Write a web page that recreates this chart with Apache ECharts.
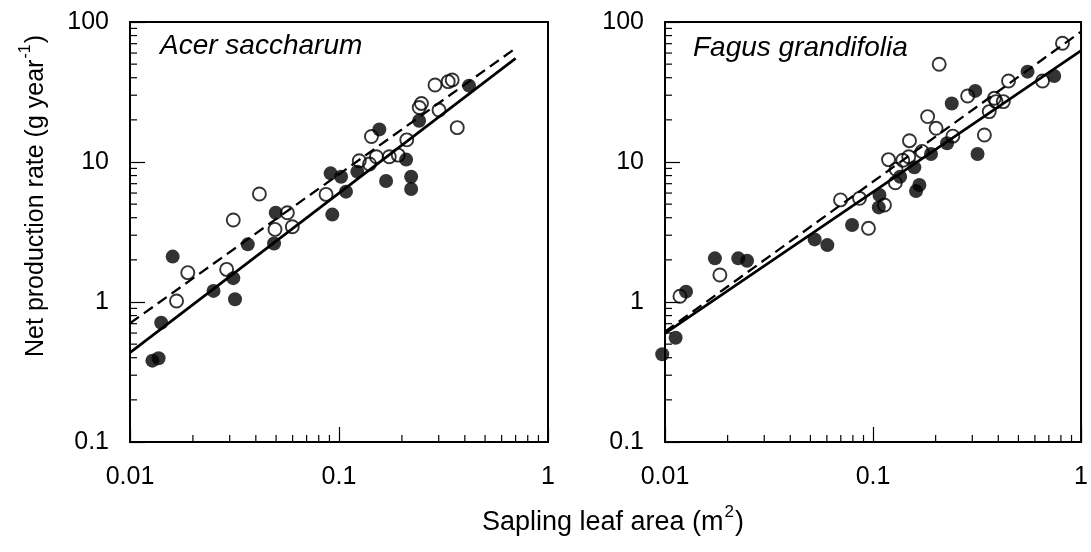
<!DOCTYPE html>
<html>
<head>
<meta charset="utf-8">
<script src="https://cdn.jsdelivr.net/npm/echarts@6/dist/echarts.min.js"></script>
<style>
html,body{margin:0;padding:0;background:#fff;}
#chart{width:1091px;height:552px;}
</style>
</head>
<body>
<div id="chart"></div>
<script>
// ---- Data ----
const panelNames = ['Acer saccharum', 'Fagus grandifolia'];

const acerFilled = [
  [0.0128,0.381],[0.0137,0.396],[0.0141,0.711],[0.0160,2.11],[0.0251,1.20],
  [0.0312,1.48],[0.0318,1.045],[0.0366,2.58],[0.0489,2.62],[0.0498,4.34],
  [0.0929,4.21],[0.0912,8.30],[0.1023,7.85],[0.108,6.14],[0.1224,8.53],
  [0.156,17.1],[0.168,7.31],[0.2095,10.4],[0.2214,7.85],[0.2214,6.41],
  [0.2417,19.7],[0.419,35.1]
];
const acerOpen = [
  [0.0167,1.017],[0.0189,1.62],[0.0290,1.71],[0.0312,3.85],[0.0416,5.91],
  [0.0494,3.30],[0.0566,4.34],[0.0598,3.45],[0.0867,5.87],[0.125,10.2],
  [0.143,15.2],[0.151,10.9],[0.140,9.68],[0.174,10.9],[0.192,11.2],
  [0.211,14.4],[0.242,24.5],[0.248,26.2],[0.288,35.5],[0.301,23.5],
  [0.333,37.5],[0.348,38.5],[0.368,17.6]
];
const acerSolidFit = [[0.01,0.435],[0.70,55]];
const acerDashedFit = [[0.01,0.705],[0.70,64.9]];

const fagusFilled = [
  [0.0097,0.423],[0.01125,0.556],[0.01262,1.186],[0.01738,2.05],[0.0225,2.05],
  [0.0248,1.97],[0.0524,2.80],[0.0603,2.55],[0.0793,3.55],[0.1074,5.81],
  [0.1066,4.74],[0.135,7.85],[0.158,9.16],[0.167,6.85],[0.161,6.21],
  [0.190,11.4],[0.227,13.6],[0.239,26.2],[0.310,32.2],[0.318,11.4],
  [0.553,44.2],[0.743,41.1]
];
const fagusOpen = [
  [0.0118,1.10],[0.01836,1.56],[0.0698,5.36],[0.0861,5.50],[0.0951,3.36],
  [0.1135,4.93],[0.1187,10.4],[0.128,7.11],[0.129,8.87],[0.139,10.3],
  [0.1485,10.9],[0.1497,14.2],[0.172,11.9],[0.183,21.1],[0.201,17.4],
  [0.208,49.9],[0.242,15.3],[0.285,29.6],[0.343,15.6],[0.362,22.9],
  [0.383,28.5],[0.390,27.0],[0.423,27.0],[0.448,37.9],[0.653,37.9],
  [0.814,70.5]
];
const fagusSolidFit = [[0.01,0.597],[1.0,62.4]];
const fagusDashedFit = [[0.01,0.614],[1.0,85.3]];

// axis ranges and ticks
const xRange = [0.01, 1];
const yRange = [0.1, 100];
const xMinorTicks = [0.02,0.03,0.04,0.05,0.06,0.07,0.08,0.09,0.2,0.3,0.4,0.5,0.6,0.7,0.8,0.9];
const yMinorTicks = [0.2,0.3,0.4,0.5,0.6,0.7,0.8,0.9,2,3,4,5,6,7,8,9,20,30,40,50,60,70,80,90];

const xTitleParts = ['Sapling leaf area (m', '2', ')'];
const yTitleParts = ['Net production rate (g year', '-1', ')'];

// ---- Chart ----
const FONT = '"Liberation Sans", Arial, Helvetica, sans-serif';
const chart = echarts.init(document.getElementById('chart'), null, {renderer: 'canvas'});

const grids = [
  {left: 130, top: 22, width: 418, height: 420},
  {left: 665, top: 22, width: 417, height: 420}
];

function fmt(v){
  if (v >= 1) return String(Math.round(v));
  return String(+v.toPrecision(1));
}

const xAxes = grids.map((g, i) => ({
  type: 'log', logBase: 10, gridIndex: i, min: xRange[0], max: xRange[1],
  axisLine: {show: true, onZero: false, lineStyle: {color: '#000', width: 2}},
  axisTick: {show: true, inside: true, length: 15, lineStyle: {color: '#000', width: 1.2}},
  minorTick: {show: false},
  splitLine: {show: false},
  axisLabel: {color: '#000', fontFamily: FONT, fontSize: 25, margin: 23, formatter: fmt,
    showMinLabel: true, showMaxLabel: true}
}));
const yAxes = grids.map((g, i) => ({
  type: 'log', logBase: 10, gridIndex: i, min: yRange[0], max: yRange[1],
  axisLine: {show: true, onZero: false, lineStyle: {color: '#000', width: 2}},
  axisTick: {show: true, inside: true, length: 15, lineStyle: {color: '#000', width: 1.2}},
  splitLine: {show: false},
  axisLabel: {color: '#000', fontFamily: FONT, fontSize: 25, margin: 21, formatter: fmt,
    showMinLabel: true, showMaxLabel: true}
}));

function minorTickSeries(idx){
  const data = xMinorTicks.map(v => [v, yRange[0], 0])
    .concat(yMinorTicks.map(v => [xRange[0], v, 1]));
  return {
    type: 'custom', xAxisIndex: idx, yAxisIndex: idx, silent: true, z: 5,
    clip: false,
    data: data,
    renderItem: function(params, api){
      const p = api.coord([api.value(0), api.value(1)]);
      const dir = api.value(2);
      const len = 7;
      const shape = dir === 0
        ? {x1: p[0], y1: p[1], x2: p[0], y2: p[1] - len}
        : {x1: p[0], y1: p[1], x2: p[0] + len, y2: p[1]};
      return {type: 'line', shape: shape, style: {stroke: '#000', lineWidth: 1.2}};
    }
  };
}

function lineSeries(idx, data, dashed){
  return {
    type: 'line', xAxisIndex: idx, yAxisIndex: idx, data: data,
    symbol: 'none', silent: true, z: 3,
    lineStyle: {color: '#000', width: dashed ? 2.3 : 2.7, type: dashed ? [11, 6] : 'solid'}
  };
}
function openSeries(idx, data){
  return {
    type: 'scatter', xAxisIndex: idx, yAxisIndex: idx, data: data, clip: false,
    symbol: 'circle', symbolSize: 13, z: 4,
    itemStyle: {color: 'rgba(255,255,255,0)', borderColor: '#000', borderWidth: 1.9}
  };
}
function filledSeries(idx, data){
  return {
    type: 'scatter', xAxisIndex: idx, yAxisIndex: idx, data: data, clip: false,
    symbol: 'circle', symbolSize: 14, z: 5,
    itemStyle: {color: '#000', borderColor: '#000', borderWidth: 0}
  };
}

const option = {
  backgroundColor: '#fff',
  animation: false,
  grid: grids.map(g => Object.assign({show: true, borderColor: '#000', borderWidth: 2,
    backgroundColor: 'transparent', containLabel: false}, g)),
  xAxis: xAxes,
  yAxis: yAxes,
  series: [
    lineSeries(0, acerSolidFit, false),
    lineSeries(0, acerDashedFit, true),
    openSeries(0, acerOpen),
    filledSeries(0, acerFilled),
    minorTickSeries(0),
    lineSeries(1, fagusSolidFit, false),
    lineSeries(1, fagusDashedFit, true),
    openSeries(1, fagusOpen),
    filledSeries(1, fagusFilled),
    minorTickSeries(1)
  ],
  graphic: [
    {type: 'text', left: 160, top: 32, z: 10,
      style: {text: panelNames[0], fontFamily: FONT, fontSize: 28, fontStyle: 'italic', fill: '#000'}},
    {type: 'text', left: 693, top: 34, z: 10,
      style: {text: panelNames[1], fontFamily: FONT, fontSize: 28, fontStyle: 'italic', fill: '#000'}},
    {type: 'text', z: 10, x: 613, y: 520,
      style: {
        text: '{a|' + xTitleParts[0] + '}{s|' + xTitleParts[1] + '}{a|' + xTitleParts[2] + '}',
        align: 'center', verticalAlign: 'middle',
        rich: {
          a: {fontFamily: FONT, fontSize: 27, fill: '#000', lineHeight: 33, verticalAlign: 'bottom'},
          s: {fontFamily: FONT, fontSize: 17, fill: '#000', lineHeight: 33, verticalAlign: 'top', padding: [0,1,0,1]}
        }
      }},
    {type: 'text', z: 10, x: 33, y: 196, rotation: Math.PI / 2,
      style: {
        text: '{a|' + yTitleParts[0] + '}{s|' + yTitleParts[1] + '}{a|' + yTitleParts[2] + '}',
        align: 'center', verticalAlign: 'middle',
        rich: {
          a: {fontFamily: FONT, fontSize: 25, fill: '#000', lineHeight: 31, verticalAlign: 'bottom'},
          s: {fontFamily: FONT, fontSize: 16, fill: '#000', lineHeight: 31, verticalAlign: 'top', padding: [0,1,0,1]}
        }
      }}
  ]
};
chart.setOption(option);
</script>
</body>
</html>
